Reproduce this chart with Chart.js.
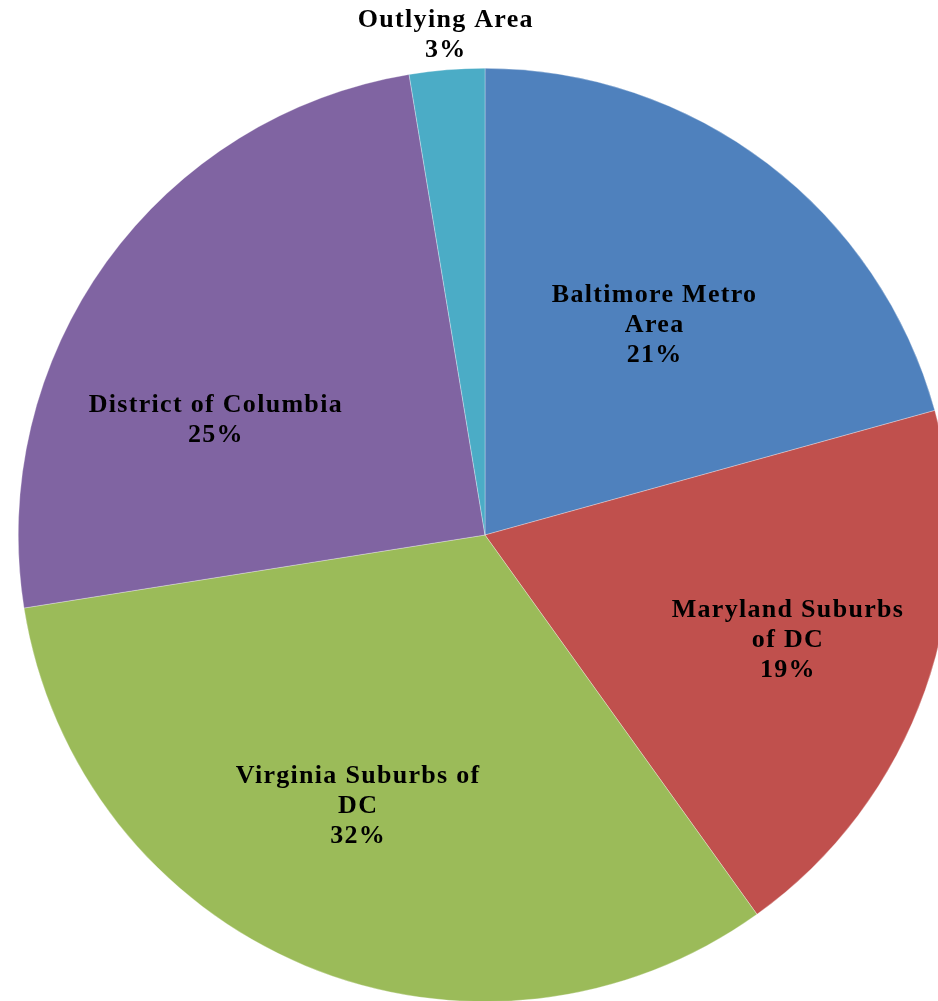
<!DOCTYPE html>
<html>
<head>
<meta charset="utf-8">
<script src="https://cdn.jsdelivr.net/npm/chart.js@4/dist/chart.umd.min.js"></script>
<style>
html, body { margin: 0; padding: 0; background: #ffffff; overflow: hidden; width: 938px; height: 1001px; }
#wrap { position: absolute; left: 0; top: 0; }
canvas { display: block; }
</style>
</head>
<body>
<div id="wrap"><canvas id="c" width="970" height="1070"></canvas></div>
<script>
// Data
const categories = [
  ["Baltimore Metro", "Area"],
  ["Maryland Suburbs", "of DC"],
  ["Virginia Suburbs of", "DC"],
  ["District of Columbia"],
  ["Outlying Area"]
];
const shares = [20.7, 19.4, 32.4, 24.9, 2.6];
const sliceColors = ["#4F81BD", "#C0504D", "#9BBB59", "#8064A2", "#4BACC6"];

// Label placement (angle offset in degrees from slice mid-angle, radius fraction)
const labelPlacement = [
  { da: 1.7, rf: 0.578 },
  { da: -0.3, rf: 0.687 },
  { da: 2.4, rf: 0.641 },
  { da: -12.7, rf: 0.627 },
  { da: 0.2, rf: 1.074 }
];

const labelPlugin = {
  id: 'sliceLabels',
  afterDatasetsDraw(chart) {
    const ctx = chart.ctx;
    const meta = chart.getDatasetMeta(0);
    const data = chart.data.datasets[0].data;
    const total = data.reduce((a, b) => a + b, 0);
    ctx.save();
    ctx.font = 'bold 26px "Liberation Serif", "Times New Roman", serif';
    try { ctx.letterSpacing = '1.3px'; } catch (e) {}
    ctx.fillStyle = '#000000';
    ctx.textAlign = 'center';
    ctx.textBaseline = 'middle';
    const lineH = 30;
    meta.data.forEach((arc, i) => {
      const p = arc.getProps(['x', 'y', 'startAngle', 'endAngle', 'outerRadius'], true);
      const place = labelPlacement[i];
      const mid = (p.startAngle + p.endAngle) / 2 + place.da * Math.PI / 180;
      const r = p.outerRadius * place.rf;
      const cx = p.x + Math.cos(mid) * r;
      const cy = p.y + Math.sin(mid) * r;
      const lines = categories[i].concat([Math.round(data[i] / total * 100) + '%']);
      const top = cy - (lines.length - 1) * lineH / 2;
      lines.forEach((t, k) => ctx.fillText(t, cx, top + k * lineH));
    });
    ctx.restore();
  }
};

new Chart(document.getElementById('c'), {
  type: 'pie',
  data: {
    labels: categories.map(c => c.join(' ')),
    datasets: [{
      data: shares,
      backgroundColor: sliceColors,
      borderWidth: 0.5,
      borderColor: 'rgba(255,255,255,0.6)'
    }]
  },
  options: {
    responsive: false,
    animation: false,
    devicePixelRatio: 1,
    layout: { padding: { left: 18, right: 18, top: 68, bottom: 68 } },
    plugins: {
      legend: { display: false },
      tooltip: { enabled: false },
      title: { display: false }
    }
  },
  plugins: [labelPlugin]
});
</script>
</body>
</html>
